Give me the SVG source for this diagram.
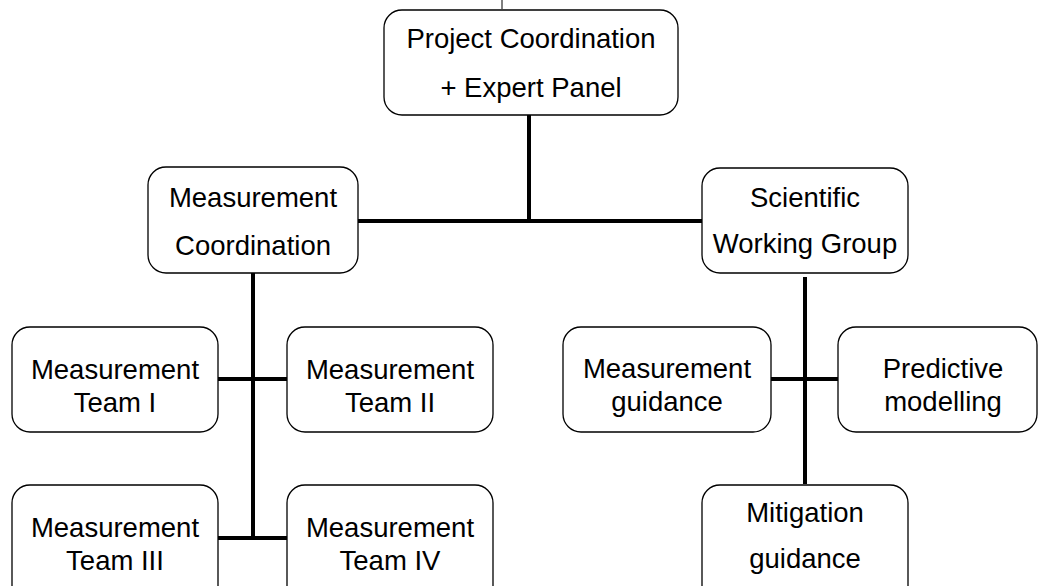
<svg xmlns="http://www.w3.org/2000/svg" width="1039" height="586" viewBox="0 0 1039 586">
<style>
.box{fill:#fff;stroke:#000;stroke-width:1.3}
.t{font-family:"Liberation Sans",Arial,sans-serif;font-size:27.5px;fill:#000;text-anchor:middle}
.c{stroke:#000;stroke-width:4;fill:none}
</style>
<rect width="1039" height="586" fill="#fff"/>
<g id="connectors">
<line x1="502" y1="0" x2="502" y2="9" stroke="#000" stroke-width="1"/>
<line class="c" x1="529" y1="115" x2="529" y2="221"/>
<line class="c" x1="358" y1="221" x2="702" y2="221"/>
<line class="c" x1="253" y1="273" x2="253" y2="538"/>
<line class="c" x1="218" y1="379" x2="287" y2="379"/>
<line class="c" x1="218" y1="538" x2="287" y2="538"/>
<line class="c" x1="805" y1="277" x2="805" y2="484"/>
<line class="c" x1="771" y1="379" x2="839" y2="379"/>
</g>
<g id="project">
<rect class="box" x="384" y="10" width="294" height="105" rx="18"/>
<text class="t" x="531" y="48">Project Coordination</text>
<text class="t" x="531" y="97">+ Expert Panel</text>
</g>
<g id="meas-coord">
<rect class="box" x="148" y="167" width="210" height="106" rx="18"/>
<text class="t" x="253" y="207">Measurement</text>
<text class="t" x="253" y="255">Coordination</text>
</g>
<g id="sci">
<rect class="box" x="702" y="168" width="206" height="105" rx="18"/>
<text class="t" x="805" y="207">Scientific</text>
<text class="t" x="805" y="253">Working Group</text>
</g>
<g id="team1">
<rect class="box" x="12" y="327" width="206" height="105" rx="18"/>
<text class="t" x="115" y="379">Measurement</text>
<text class="t" x="115" y="412">Team I</text>
</g>
<g id="team2">
<rect class="box" x="287" y="327" width="206" height="105" rx="18"/>
<text class="t" x="390" y="379">Measurement</text>
<text class="t" x="390" y="412">Team II</text>
</g>
<g id="team3">
<rect class="box" x="12" y="485" width="206" height="120" rx="18"/>
<text class="t" x="115" y="537">Measurement</text>
<text class="t" x="115" y="570">Team III</text>
</g>
<g id="team4">
<rect class="box" x="287" y="485" width="206" height="120" rx="18"/>
<text class="t" x="390" y="537">Measurement</text>
<text class="t" x="390" y="570">Team IV</text>
</g>
<g id="meas-guid">
<rect class="box" x="563" y="327" width="208" height="105" rx="18"/>
<text class="t" x="667" y="378">Measurement</text>
<text class="t" x="667" y="411">guidance</text>
</g>
<g id="predictive">
<rect class="box" x="838" y="327" width="199" height="105" rx="18"/>
<text class="t" x="943" y="378">Predictive</text>
<text class="t" x="943" y="411">modelling</text>
</g>
<g id="mitigation">
<rect class="box" x="702" y="485" width="206" height="120" rx="18"/>
<text class="t" x="805" y="522">Mitigation</text>
<text class="t" x="805" y="568">guidance</text>
</g>
</svg>
